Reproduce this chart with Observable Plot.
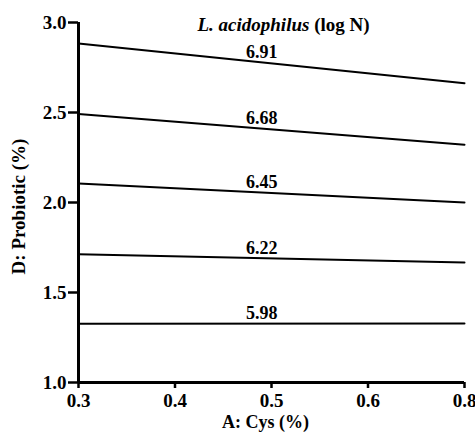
<!DOCTYPE html>
<html>
<head>
<meta charset="utf-8">
<script src="https://cdn.jsdelivr.net/npm/d3@7"></script>
<script src="https://cdn.jsdelivr.net/npm/@observablehq/plot@0.6"></script>
<style>
  html, body { margin: 0; padding: 0; background: #fff; }
  #chart svg { display: block; }
</style>
</head>
<body>
<div id="chart"></div>
<script>
// ---- data ----
const titleItalic = "L. acidophilus";
const titleRest = " (log N)";
const xLabel = "A: Cys (%)";
const yLabel = "D: Probiotic (%)";

const xTicks = [0.3, 0.4, 0.5, 0.6, 0.7];
const xTickLabels = ["0.3", "0.4", "0.5", "0.6", "0.8"];
const yTicks = [1.0, 1.5, 2.0, 2.5, 3.0];

const levels = [6.91, 6.68, 6.45, 6.22, 5.98];
const cysStart = 0.3;
const cysEnd = 0.7;
const probAtStart = [2.883, 2.491, 2.106, 1.713, 1.326];
const probAtEnd = [2.663, 2.321, 2.000, 1.667, 1.328];
const labelCys = 0.49;

// ---- build tables ----
const lineRows = levels.flatMap((lv, i) => [
  {level: lv, cys: cysStart, prob: probAtStart[i]},
  {level: lv, cys: cysEnd, prob: probAtEnd[i]}
]);
const labelRows = levels.map((lv, i) => {
  const t = (labelCys - cysStart) / (cysEnd - cysStart);
  return {level: lv, cys: labelCys, prob: probAtStart[i] + t * (probAtEnd[i] - probAtStart[i])};
});

const font = "'Liberation Serif', 'Times New Roman', Times, 'DejaVu Serif', serif";

const chart = Plot.plot({
  width: 475,
  height: 436,
  marginLeft: 78,
  marginRight: 11,
  marginTop: 22,
  marginBottom: 54,
  style: {fontSize: "18px", fontWeight: "bold", color: "#000", background: "#fff"},
  x: {domain: [0.3, 0.7]},
  y: {domain: [1, 3]},
  marks: [
    Plot.axisX({ticks: xTicks, tickFormat: d => xTickLabels[xTicks.indexOf(d)], tickSize: 6, tickPadding: 5, strokeWidth: 2.5, label: null, fontSize: 19}),
    Plot.axisY({ticks: yTicks, tickFormat: d3.format(".1f"), tickSize: 10, tickPadding: 2, strokeWidth: 2.5, label: null, fontSize: 19}),
    Plot.ruleX([0.3], {stroke: "#000", strokeWidth: 3}),
    Plot.ruleY([1], {stroke: "#000", strokeWidth: 3}),
    Plot.line(lineRows, {x: "cys", y: "prob", z: "level", stroke: "#000", strokeWidth: 2}),
    Plot.text(labelRows, {x: "cys", y: "prob", text: d => d.level.toFixed(2), dy: -10, fontSize: 18}),
    Plot.text([titleItalic + titleRest], {frameAnchor: "top", dx: 12, dy: -5, lineAnchor: "top", fontSize: 19, className: "ttl"}),
    Plot.text([xLabel], {frameAnchor: "bottom", textAnchor: "middle", dx: -6, dy: 33, lineAnchor: "top", fontSize: 18}),
    Plot.text([yLabel], {frameAnchor: "left", textAnchor: "middle", dx: -60, dy: 4, rotate: -90, fontSize: 19})
  ]
});

document.getElementById("chart").appendChild(chart);

// force the serif face on every text node
d3.select(chart).style("font-family", font);
d3.select(chart).selectAll("text").attr("font-family", font).style("font-family", font).style("font-weight", "bold");

// mixed-style title: italic species name + upright unit
const ttl = d3.select(chart).select("g.ttl text");
if (!ttl.empty()) {
  ttl.text(null);
  ttl.append("tspan").attr("font-style", "italic").text(titleItalic);
  ttl.append("tspan").text(titleRest);
}
</script>
</body>
</html>
